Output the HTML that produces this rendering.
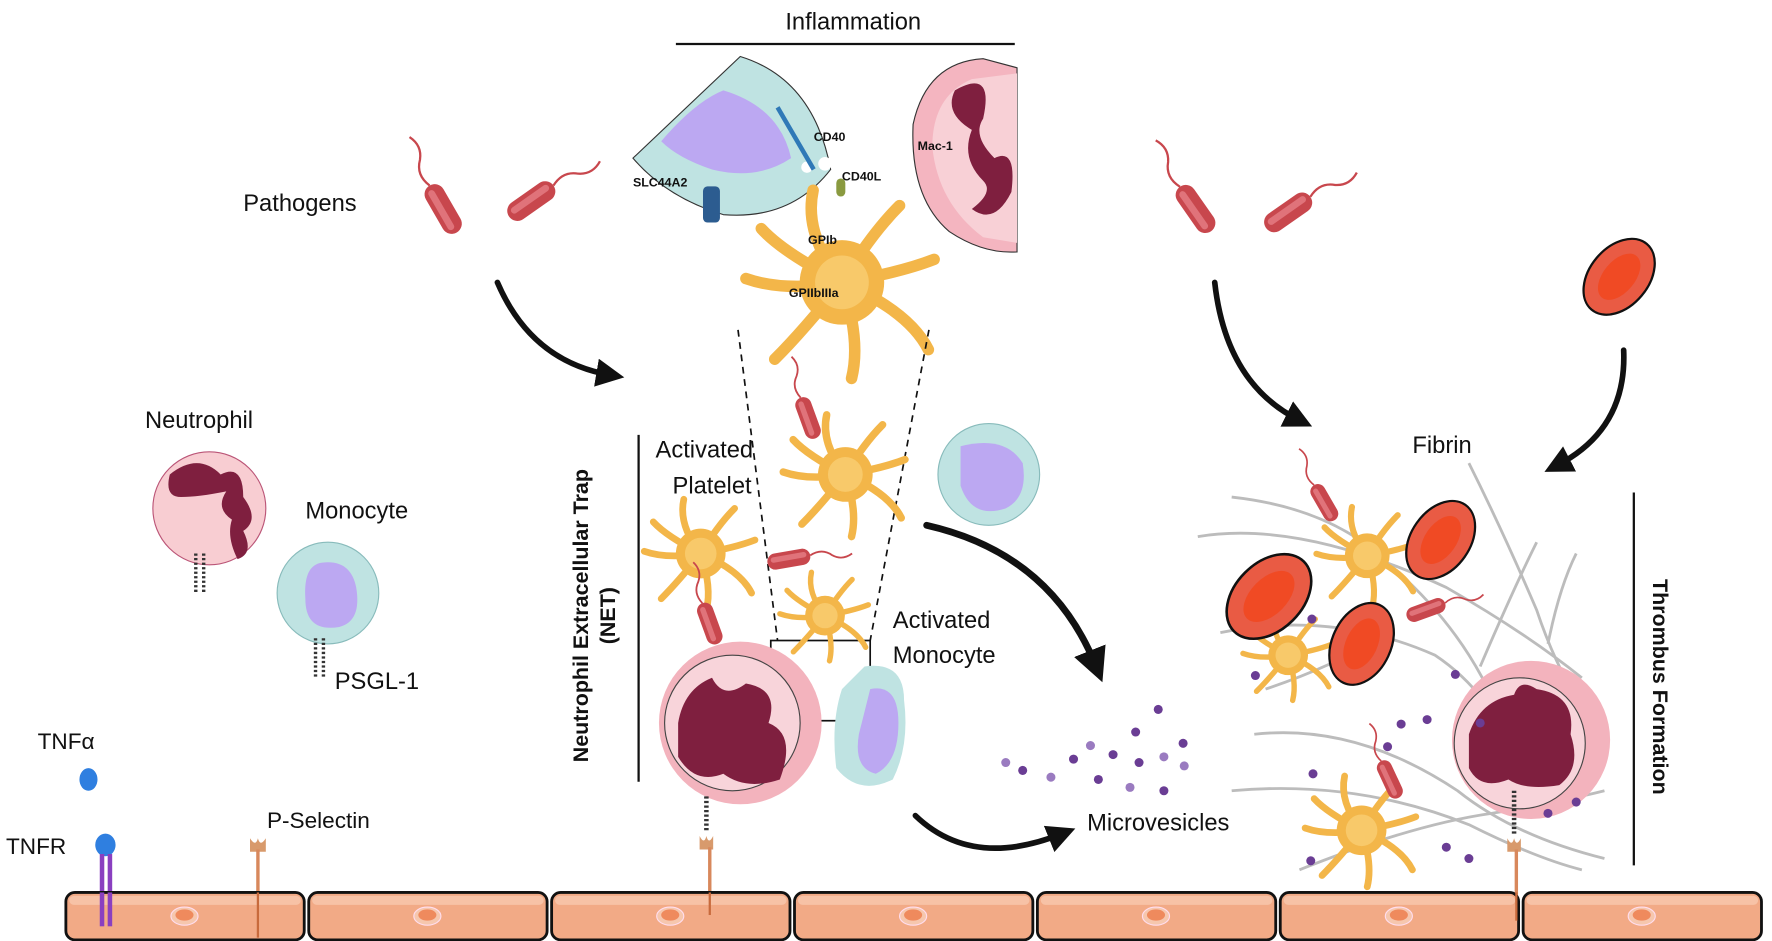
<!DOCTYPE html>
<html><head><meta charset="utf-8"><style>
html,body{margin:0;padding:0;background:#fff;}
svg{display:block;}
text{font-family:"Liberation Sans",sans-serif;fill:#111;}
</style></head><body>
<svg width="1772" height="941" viewBox="0 0 1568 833" xmlns="http://www.w3.org/2000/svg">
<defs>
<g id="plt">
 <g stroke="#f3b649" stroke-width="6" stroke-linecap="round" fill="none">
  <path d="M0 0 Q-20 -25 -15 -48"/><path d="M0 0 Q15 -25 30 -40"/><path d="M0 0 Q30 -5 48 -12"/>
  <path d="M0 0 Q35 15 45 35"/><path d="M0 0 Q10 30 5 50"/><path d="M0 0 Q-20 25 -35 40"/>
  <path d="M0 0 Q-30 5 -50 -2"/><path d="M0 0 Q-30 -15 -42 -28"/>
 </g>
 <circle r="22" fill="#f3b649"/><circle r="14" fill="#f8c96a"/>
</g>
<g id="bac">
 <rect x="-9" y="-24" width="18" height="48" rx="9" fill="#c8474d"/>
 <rect x="-5" y="-20" width="6" height="40" rx="3" fill="#e0737a"/>
 <path d="M0 -24 q-6 -14 4 -24 q8 -10 2 -22" stroke="#c8474d" stroke-width="2" fill="none"/>
</g>
<g id="rbc">
 <ellipse rx="38" ry="26" fill="#e95b44" stroke="#111" stroke-width="2"/>
 <ellipse rx="24" ry="14" fill="#f04a24"/>
</g>
<g id="cell">
 <rect x="0" y="0" width="211" height="42" rx="8" fill="#f2aa86" stroke="#111" stroke-width="2.5"/>
 <rect x="3" y="3" width="205" height="8" rx="4" fill="#f7c2a6"/>
 <ellipse cx="105" cy="21" rx="12" ry="8" fill="#f6c7ae" stroke="#fde" stroke-width="1"/>
 <ellipse cx="105" cy="20" rx="8" ry="5" fill="#ef8a5d"/>
</g>
<marker id="ah" viewBox="0 0 10 10" refX="5" refY="5" markerWidth="5" markerHeight="5" orient="auto"><path d="M0 0L10 5L0 10z" fill="#111"/></marker>
</defs>

<!-- Title -->
<text x="755" y="26" font-size="21" text-anchor="middle">Inflammation</text>
<line x1="598" y1="39" x2="898" y2="39" stroke="#111" stroke-width="2"/>

<!-- top monocyte half -->
<path d="M655 50 Q720 70 735 150 Q700 195 640 190 Q590 175 560 140 Z" fill="#bfe3e2" stroke="#333" stroke-width="1"/>
<path d="M640 80 Q690 95 700 140 Q670 160 630 150 Q600 140 585 125 Q615 90 640 80Z" fill="#bca8f2"/>
<circle cx="730" cy="145" r="6" fill="#fff"/><circle cx="714" cy="148" r="5" fill="#fff"/>
<!-- top neutrophil half -->
<path d="M870 52 Q820 55 808 110 Q805 175 840 205 Q870 225 900 223 L900 60Z" fill="#f4b5c0" stroke="#333" stroke-width="1"/>
<path d="M860 70 Q825 85 825 130 Q830 180 870 210 L900 215 L900 65Z" fill="#f8d0d6"/>
<path d="M845 80 Q880 60 870 105 Q860 120 880 140 Q900 130 895 170 Q880 200 860 185 Q880 170 870 160 Q850 140 860 115 Q835 100 845 80Z" fill="#7f1f3f"/>
<text x="812" y="133" font-size="11" font-weight="bold">Mac-1</text>
<text x="720" y="125" font-size="11" font-weight="bold">CD40</text>
<text x="745" y="160" font-size="11" font-weight="bold">CD40L</text>
<text x="560" y="165" font-size="11" font-weight="bold">SLC44A2</text>
<rect x="622" y="165" width="15" height="32" rx="4" fill="#2c5c90"/>
<path d="M688 95 L720 150" stroke="#2f79b7" stroke-width="4"/>
<rect x="740" y="158" width="8" height="16" rx="4" fill="#8a9a40"/>
<!-- big platelet -->
<g transform="translate(745,250) scale(1.7)"><use href="#plt"/></g>
<text x="715" y="216" font-size="11" font-weight="bold">GPIb</text>
<text x="698" y="263" font-size="11" font-weight="bold">GPIIbIIIa</text>

<!-- dashed trapezoid -->
<line x1="653" y1="292" x2="688" y2="567" stroke="#111" stroke-width="1.5" stroke-dasharray="6,5"/>
<line x1="822" y1="292" x2="770" y2="567" stroke="#111" stroke-width="1.5" stroke-dasharray="6,5"/>
<rect x="682" y="567" width="88" height="71" fill="none" stroke="#111" stroke-width="1.5"/>

<!-- pathogens -->
<text x="215" y="187" font-size="21">Pathogens</text>
<g transform="translate(392,185) rotate(-30)"><use href="#bac"/></g>
<g transform="translate(470,178) rotate(55)"><use href="#bac"/></g>
<g transform="translate(1058,185) rotate(-35)"><use href="#bac"/></g>
<g transform="translate(1140,188) rotate(55)"><use href="#bac"/></g>
<g transform="translate(1433,245) rotate(-50)"><use href="#rbc"/></g>

<!-- arrows -->
<g stroke="#111" stroke-width="5" fill="none" stroke-linecap="round">
<path d="M440 250 Q470 320 540 332" marker-end="url(#ah)"/>
<path d="M1075 250 Q1085 340 1150 372" marker-end="url(#ah)"/>
<path d="M1437 310 Q1440 380 1378 412" marker-end="url(#ah)"/>
<path d="M820 465 Q930 490 970 590" marker-end="url(#ah)" stroke-width="6"/>
<path d="M810 722 Q860 770 940 738" marker-end="url(#ah)"/>
</g>

<!-- left resting cells -->
<text x="128" y="379" font-size="21">Neutrophil</text>
<circle cx="185" cy="450" r="50" fill="#f8cdd2" stroke="#b57" stroke-width="1"/>
<path d="M150 420 Q175 400 195 420 Q215 410 215 440 Q230 460 215 470 Q225 490 210 495 Q200 475 205 460 Q190 450 200 435 Q175 440 160 440 Q145 440 150 420Z" fill="#7f1f3f"/>
<text x="270" y="459" font-size="21">Monocyte</text>
<circle cx="290" cy="525" r="45" fill="#bfe3e2" stroke="#8bb" stroke-width="1"/>
<path d="M285 498 Q310 495 315 520 Q320 550 300 555 Q270 560 270 530 Q268 500 285 498Z" fill="#bca8f2"/>
<text x="296" y="610" font-size="21">PSGL-1</text>
<line x1="173" y1="490" x2="173" y2="525" stroke="#333" stroke-width="3" stroke-dasharray="2,2"/>
<line x1="180" y1="490" x2="180" y2="525" stroke="#333" stroke-width="3" stroke-dasharray="2,2"/>
<line x1="279" y1="565" x2="279" y2="600" stroke="#333" stroke-width="3" stroke-dasharray="2,2"/>
<line x1="286" y1="565" x2="286" y2="600" stroke="#333" stroke-width="3" stroke-dasharray="2,2"/>

<text x="33" y="663" font-size="20">TNFα</text>
<ellipse cx="78" cy="690" rx="8" ry="10" fill="#2f7fe0"/>
<text x="5" y="756" font-size="20">TNFR</text>
<ellipse cx="93" cy="748" rx="9" ry="10" fill="#2f7fe0"/>
<rect x="88" y="756" width="4" height="60" fill="#8a3fc0"/><rect x="95" y="756" width="4" height="60" fill="#8a3fc0"/>
<text x="236" y="733" font-size="20">P-Selectin</text>
<path d="M221 742 q5 8 7 0 q2 8 7 0 v12 h-14z" fill="#d89a6c"/>
<line x1="228" y1="752" x2="228" y2="815" stroke="#d8885c" stroke-width="3"/>

<!-- NET region -->
<text transform="translate(520,545) rotate(-90)" font-size="19" font-weight="bold" text-anchor="middle">Neutrophil Extracellular Trap</text>
<text transform="translate(544,545) rotate(-90)" font-size="19" font-weight="bold" text-anchor="middle">(NET)</text>
<line x1="565" y1="385" x2="565" y2="692" stroke="#111" stroke-width="2"/>
<text x="580" y="405" font-size="21">Activated</text>
<text x="595" y="437" font-size="21">Platelet</text>
<g transform="translate(748,420) scale(1.1)"><use href="#plt"/></g>
<g transform="translate(620,490) scale(1.0)"><use href="#plt"/></g>
<g transform="translate(730,545) scale(0.8)"><use href="#plt"/></g>
<g transform="translate(715,370) rotate(-20) scale(0.8)"><use href="#bac"/></g>
<g transform="translate(698,495) rotate(80) scale(0.8)"><use href="#bac"/></g>
<g transform="translate(628,552) rotate(-20) scale(0.8)"><use href="#bac"/></g>
<circle cx="875" cy="420" r="45" fill="#bfe3e2" stroke="#8bb"/>
<path d="M850 395 Q890 385 905 410 Q910 440 890 450 Q860 460 850 430Z" fill="#bca8f2"/>
<circle cx="655" cy="640" r="72" fill="#f3b3bd"/>
<circle cx="648" cy="640" r="60" fill="#f8d4da" stroke="#444" stroke-width="1"/>
<path d="M600 640 Q605 610 630 600 Q640 620 660 605 Q690 610 680 640 Q705 650 690 690 Q660 700 640 685 Q615 695 600 670Z" fill="#7f1f3f"/>
<path d="M765 590 Q800 585 800 620 Q805 660 790 690 Q760 705 740 680 Q735 640 745 610Z" fill="#bfe3e2"/>
<path d="M770 610 Q795 605 795 640 Q795 675 775 685 Q755 680 760 650Z" fill="#bca8f2"/>
<text x="790" y="556" font-size="21">Activated</text>
<text x="790" y="587" font-size="21">Monocyte</text>
<line x1="625" y1="705" x2="625" y2="735" stroke="#333" stroke-width="4" stroke-dasharray="2,2"/>
<path d="M619 740 q4 8 6 0 q2 8 6 0 v12 h-12z" fill="#d89a6c"/>
<line x1="628" y1="750" x2="628" y2="810" stroke="#d8885c" stroke-width="3"/>

<!-- microvesicles -->
<g fill="#6a3d94">
<circle cx="1025" cy="628" r="4"/><circle cx="1005" cy="648" r="4"/><circle cx="1047" cy="658" r="4"/>
<circle cx="965" cy="660" r="4" fill="#9a7bc0"/><circle cx="985" cy="668" r="4"/><circle cx="1030" cy="670" r="4" fill="#9a7bc0"/>
<circle cx="950" cy="672" r="4"/><circle cx="1008" cy="675" r="4"/><circle cx="905" cy="682" r="4"/>
<circle cx="930" cy="688" r="4" fill="#9a7bc0"/><circle cx="972" cy="690" r="4"/><circle cx="1048" cy="678" r="4" fill="#9a7bc0"/>
<circle cx="890" cy="675" r="4" fill="#9a7bc0"/><circle cx="1000" cy="697" r="4" fill="#9a7bc0"/><circle cx="1030" cy="700" r="4"/>
</g>
<text x="962" y="735" font-size="21">Microvesicles</text>

<!-- thrombus -->
<text x="1250" y="401" font-size="21">Fibrin</text>
<g stroke="#bcbcbc" stroke-width="2.5" fill="none">
<path d="M1060 475 Q1150 460 1280 520 Q1350 560 1400 600"/>
<path d="M1090 440 Q1180 450 1230 500 Q1300 560 1330 640"/>
<path d="M1300 410 Q1330 470 1360 540 Q1380 600 1410 640"/>
<path d="M1080 560 Q1180 540 1270 580 Q1330 620 1350 700"/>
<path d="M1110 650 Q1200 640 1290 700 Q1340 740 1420 760"/>
<path d="M1090 700 Q1200 690 1300 730 Q1360 760 1400 770"/>
<path d="M1150 770 Q1250 730 1320 720 Q1380 710 1420 700"/>
<path d="M1120 610 Q1180 590 1230 560"/>
<path d="M1310 590 Q1340 520 1360 480 M1370 570 Q1380 520 1395 490"/>
</g>
<g transform="translate(1210,492) scale(0.9)"><use href="#plt"/></g>
<g transform="translate(1140,580) scale(0.8)"><use href="#plt"/></g>
<g transform="translate(1205,735) scale(1.0)"><use href="#plt"/></g>
<g transform="translate(1275,478) rotate(-55)"><use href="#rbc"/></g>
<g transform="translate(1123,528) rotate(-45) scale(1.15)"><use href="#rbc"/></g>
<g transform="translate(1205,570) rotate(-65)"><use href="#rbc"/></g>
<g transform="translate(1172,445) rotate(-30) scale(0.75)"><use href="#bac"/></g>
<g transform="translate(1262,540) rotate(70) scale(0.75)"><use href="#bac"/></g>
<g transform="translate(1230,690) rotate(-25) scale(0.75)"><use href="#bac"/></g>
<circle cx="1355" cy="655" r="70" fill="#f3b3bd"/>
<circle cx="1345" cy="658" r="58" fill="#f8d4da" stroke="#444" stroke-width="1"/>
<path d="M1300 650 Q1310 620 1340 615 Q1345 600 1360 610 Q1395 615 1390 650 Q1400 680 1380 695 Q1350 700 1335 690 Q1310 700 1300 680Z" fill="#7f1f3f"/>
<line x1="1340" y1="700" x2="1340" y2="740" stroke="#333" stroke-width="4" stroke-dasharray="2,2"/>
<path d="M1334 742 q4 8 6 0 q2 8 6 0 v12 h-12z" fill="#d89a6c"/>
<line x1="1342" y1="752" x2="1342" y2="810" stroke="#d8885c" stroke-width="3"/>
<g fill="#6a3d94">
<circle cx="1161" cy="548" r="4"/><circle cx="1288" cy="597" r="4"/><circle cx="1263" cy="637" r="4"/><circle cx="1240" cy="641" r="4"/>
<circle cx="1111" cy="598" r="4"/><circle cx="1310" cy="640" r="4"/><circle cx="1228" cy="661" r="4"/><circle cx="1162" cy="685" r="4"/>
<circle cx="1370" cy="720" r="4"/><circle cx="1280" cy="750" r="4"/><circle cx="1300" cy="760" r="4"/><circle cx="1160" cy="762" r="4"/><circle cx="1395" cy="710" r="4"/>
</g>
<line x1="1446" y1="436" x2="1446" y2="766" stroke="#111" stroke-width="2"/>
<text transform="translate(1463,608) rotate(90)" font-size="19" font-weight="bold" text-anchor="middle">Thrombus Formation</text>

<!-- endothelium -->
<g transform="translate(58,790)"><use href="#cell"/></g>
<g transform="translate(273,790)"><use href="#cell"/></g>
<g transform="translate(488,790)"><use href="#cell"/></g>
<g transform="translate(703,790)"><use href="#cell"/></g>
<g transform="translate(918,790)"><use href="#cell"/></g>
<g transform="translate(1133,790)"><use href="#cell"/></g>
<g transform="translate(1348,790)"><use href="#cell"/></g>
<rect x="88" y="790" width="4" height="30" fill="#8a3fc0"/><rect x="95" y="790" width="4" height="30" fill="#8a3fc0"/>
<line x1="228" y1="790" x2="228" y2="830" stroke="#c86a3c" stroke-width="2"/>
<line x1="628" y1="790" x2="628" y2="810" stroke="#c86a3c" stroke-width="2"/>
<line x1="1342" y1="790" x2="1342" y2="815" stroke="#c86a3c" stroke-width="2"/>
</svg>
</body></html>
